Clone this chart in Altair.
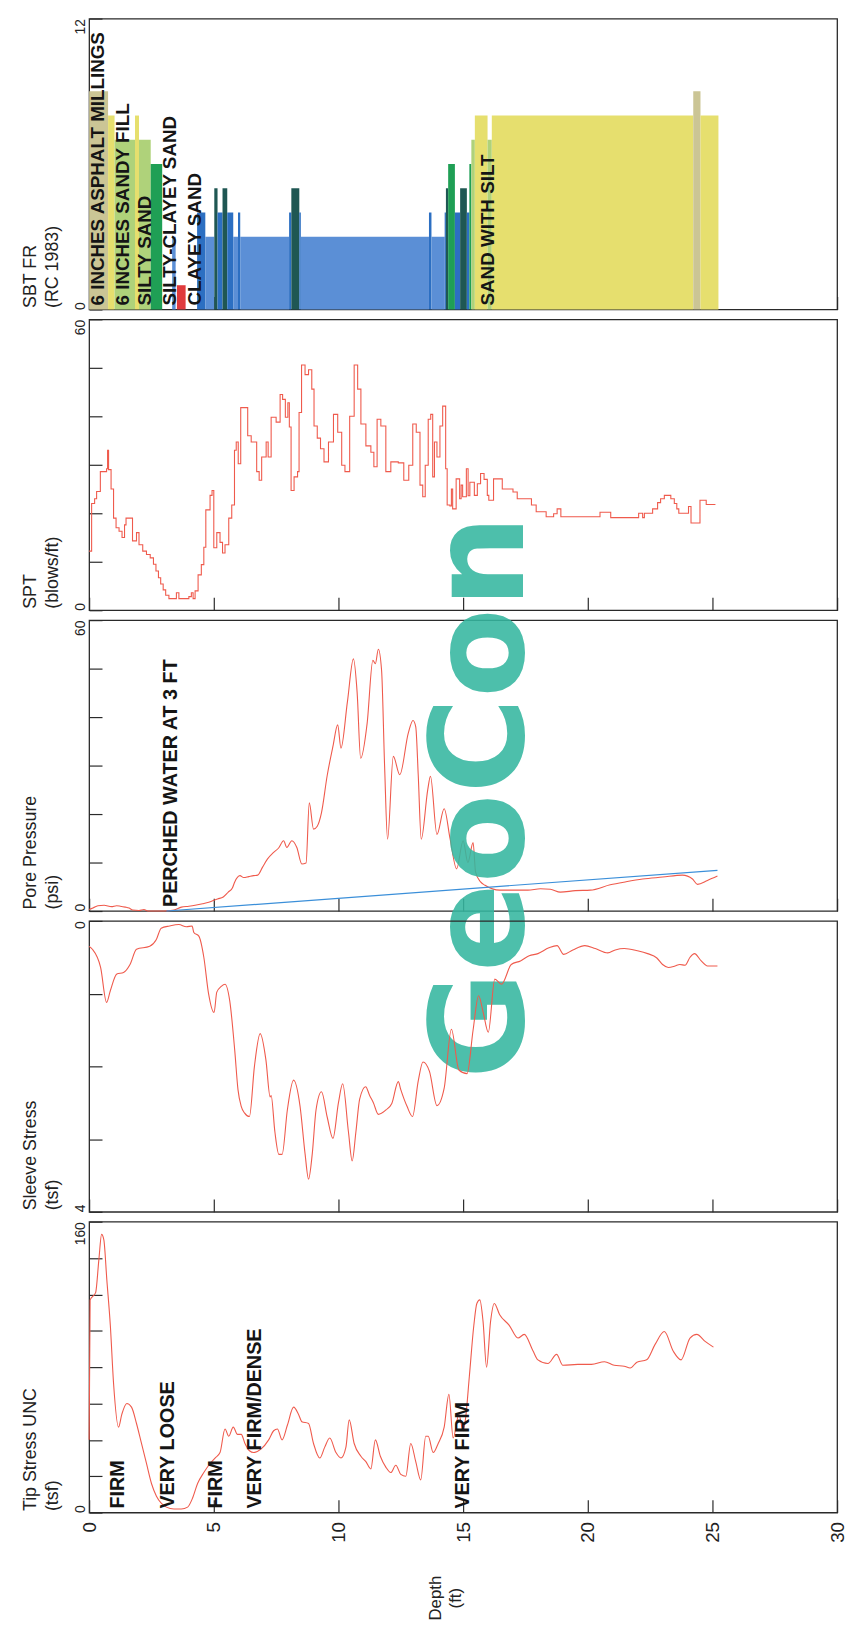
import altair as alt
import pandas as pd

FONT = "Liberation Sans"
W, H = 756, 294
LINE = "#ef5a4c"
BLUE_LINE = "#3b8fd9"
INK = "#151515"

depth_ticks = [0, 5, 10, 15, 20, 25, 30]

# ---- SBT FR (RC 1983) zones ----
sbt_start = [0.0, 0.76, 1.02, 1.84, 2.0, 2.47, 3.33, 3.52, 4.33, 4.66, 5.02, 5.15, 5.35, 5.54, 5.78, 5.97, 6.06,
             8.02, 8.11, 8.43, 8.49, 13.63, 13.73, 14.26, 14.31, 14.4, 14.67, 14.88, 15.15, 15.25, 15.33, 15.47,
             15.98, 16.15, 24.23, 24.52]
sbt_end = [0.76, 1.02, 1.84, 2.0, 2.47, 2.93, 3.47, 3.87, 4.66, 5.02, 5.15, 5.35, 5.54, 5.78, 5.97, 6.06, 8.02,
           8.11, 8.43, 8.49, 13.63, 13.73, 14.26, 14.31, 14.4, 14.67, 14.88, 15.15, 15.25, 15.33, 15.47, 15.98,
           16.15, 24.23, 24.52, 25.24]
sbt_zone = [9, 8, 7, 8, 7, 6, 3, 1, 4, 3, 5, 4, 5, 4, 3, 4, 3,
            4, 5, 4, 3, 4, 3, 4, 5, 6, 4, 5, 4, 6, 7, 8,
            7, 8, 9, 8]
zone_ids = [1, 3, 4, 5, 6, 7, 8, 9]
zone_colors = ["#e03a3c", "#5b8fd6", "#2c6fc2", "#1f5753", "#1f9f55", "#afd27a", "#e6df6e", "#cbc595"]
sbt_label_depth = [0.36, 1.35, 2.23, 3.25, 4.23, 16.0]
sbt_label_text = ["6 INCHES ASPHALT MILLINGS", "6 INCHES SANDY FILL", "SILTY SAND",
                  "SILTY-CLAYEY SAND", "CLAYEY SAND", "SAND WITH SILT"]

# ---- SPT (blows/ft) ----
spt = [(0.0, 12.2), (0.1, 22), (0.22, 23), (0.3, 24.5), (0.45, 28.6), (0.7, 29.2), (0.74, 33), (0.78, 29),
       (0.88, 25), (0.98, 19), (1.08, 17), (1.2, 16.3), (1.32, 15), (1.42, 17.6), (1.48, 19), (1.74, 14.3),
       (1.9, 16), (2.0, 13.5), (2.15, 12.2), (2.3, 11.5), (2.45, 10.8), (2.58, 9.5), (2.68, 8.1), (2.78, 6.7),
       (2.87, 5.4), (2.97, 4.2), (3.07, 3.1), (3.2, 2.4), (3.4, 2.4), (3.5, 3.6), (3.6, 2.4), (3.85, 2.4),
       (4.0, 2.8), (4.1, 3.6), (4.17, 2.4), (4.25, 4.0), (4.37, 7.3), (4.5, 9.4), (4.6, 13), (4.68, 20.7),
       (4.85, 23.7), (4.93, 24.7), (5.0, 12.9), (5.12, 16), (5.25, 14), (5.35, 11.8), (5.45, 13.5), (5.6, 19),
       (5.72, 21.7), (5.83, 33), (5.9, 34.7), (5.98, 30.2), (6.08, 41.8), (6.36, 36), (6.5, 34.7), (6.72, 28.6),
       (6.82, 26.8), (6.92, 31.6), (7.1, 34.7), (7.18, 31.6), (7.3, 39.8), (7.5, 38.8), (7.66, 44.5),
       (7.76, 43.5), (7.87, 39.8), (7.97, 42.8), (8.03, 37.8), (8.1, 24.7), (8.22, 27.5), (8.36, 28.6),
       (8.42, 40.8), (8.52, 50.6), (8.66, 48.6), (8.8, 49.6), (8.93, 45.6), (9.02, 38), (9.15, 35.5),
       (9.28, 33.3), (9.42, 30.6), (9.6, 34.7), (9.8, 40.4), (9.97, 36.7), (10.13, 29.9), (10.26, 28.6),
       (10.45, 40), (10.63, 50.6), (10.77, 45.6), (10.9, 38.4), (11.1, 33.9), (11.3, 32.6), (11.42, 29.6),
       (11.55, 39.4), (11.7, 38), (11.9, 28.6), (12.1, 30.6), (12.4, 30.4), (12.62, 26.8), (12.82, 29.9),
       (12.98, 38.4), (13.12, 36.7), (13.27, 25.8), (13.38, 23.4), (13.48, 29.9), (13.6, 39.4), (13.7, 40.4),
       (13.78, 27.5), (13.85, 34.7), (13.95, 31.6), (14.07, 38), (14.18, 42.1), (14.3, 29.2), (14.36, 21.7),
       (14.47, 21.5), (14.53, 25), (14.58, 20.9), (14.72, 27.1), (14.86, 23), (14.92, 25.8), (14.98, 23.4),
       (15.13, 29.2), (15.2, 23.6), (15.27, 26.4), (15.45, 23.7), (15.57, 26.1), (15.7, 28.2), (15.84, 27),
       (15.97, 23.7), (16.03, 22.7), (16.22, 27.1), (16.57, 25), (17.0, 24.4), (17.17, 23), (17.74, 21.7),
       (17.93, 20.3), (18.33, 19.3), (18.63, 19.9), (18.77, 20.9), (18.92, 19.3), (20.49, 20.2), (20.92, 19.1),
       (22.04, 20), (22.2, 19.1), (22.27, 20), (22.6, 20.9), (22.8, 22.2), (22.92, 23), (23.07, 23.7),
       (23.33, 23), (23.47, 22), (23.57, 20.9), (23.65, 20), (24.04, 21.4), (24.14, 18), (24.5, 22.7),
       (24.75, 21.8), (25.12, 21.8)]

# ---- Pore pressure (psi) ----
pore = [(0.0, 0.3), (0.15, 0.6), (0.35, 1.1), (0.6, 1.2), (0.9, 0.9), (1.1, 1.1), (1.25, 1.0), (1.45, 0.8),
        (1.6, 0.6), (1.75, 0.2), (2.0, 0.1), (2.2, 0.3), (2.35, 0.0), (2.6, 0.0), (3.0, 0.0), (3.4, 0.2),
        (3.7, 0.8), (4.0, 1.0), (4.25, 1.2), (4.55, 1.5), (4.8, 1.8), (5.15, 2.5), (5.38, 2.9), (5.58, 3.9),
        (5.75, 4.8), (5.84, 6.0), (6.05, 7.3), (6.2, 6.9), (6.4, 7.1), (6.6, 7.3), (6.76, 7.4), (6.95, 9.0),
        (7.15, 10.7), (7.4, 12.1), (7.6, 13.0), (7.8, 14.5), (7.93, 13.1), (8.13, 14.5), (8.33, 13.1),
        (8.53, 9.7), (8.7, 9.9), (8.83, 22.3), (9.0, 16.9), (9.15, 17.5), (9.32, 20.3), (9.55, 28.0),
        (9.78, 34.0), (9.97, 38.4), (10.1, 33.6), (10.36, 43.2), (10.6, 52.0), (10.75, 45.0), (10.89, 31.5),
        (11.15, 38.7), (11.38, 51.7), (11.48, 51.0), (11.6, 54.0), (11.73, 49.6), (11.85, 30.0), (11.97, 14.8),
        (12.2, 31.9), (12.46, 28.1), (12.8, 36.7), (12.99, 39.3), (13.1, 38.0), (13.2, 28.0), (13.32, 14.8),
        (13.58, 25.0), (13.69, 27.8), (13.95, 15.8), (14.24, 21.1), (14.48, 14.8), (14.74, 8.7), (15.0, 14.5),
        (15.19, 10.0), (15.4, 14.1), (15.5, 8.0), (15.7, 6.0), (15.88, 5.3), (16.47, 4.3), (17.0, 4.3),
        (17.6, 4.3), (18.1, 4.6), (18.5, 4.5), (18.9, 3.9), (19.5, 4.2), (20.1, 4.3), (20.9, 5.4), (21.5, 6.0),
        (22.2, 6.6), (23.0, 7.0), (23.8, 7.4), (24.2, 6.6), (24.4, 5.5), (24.8, 6.3), (25.2, 7.2)]
water_depth = [3.1, 25.2]
water_psi = [0.0, 8.4]
pore_note_depth = [3.3]
pore_note_text = ["PERCHED WATER AT 3 FT"]
wm_text = ["GeoCon"]
wm_depth = [17.4]
wm_psi = [23.5]

# ---- Sleeve stress (tsf) ----
sleeve = [(0.0, 0.35), (0.13, 0.39), (0.46, 0.64), (0.7, 1.12), (0.85, 0.96), (1.11, 0.73), (1.38, 0.71),
          (1.64, 0.6), (1.9, 0.39), (2.43, 0.35), (2.69, 0.26), (2.89, 0.1), (3.22, 0.07), (3.6, 0.05),
          (3.9, 0.08), (4.13, 0.07), (4.2, 0.16), (4.4, 0.21), (4.6, 0.5), (4.79, 1.0), (5.01, 1.26),
          (5.12, 0.98), (5.3, 0.9), (5.45, 0.87), (5.64, 1.1), (5.84, 1.78), (5.97, 2.32), (6.1, 2.55),
          (6.23, 2.64), (6.43, 2.69), (6.63, 2.0), (6.86, 1.55), (7.09, 1.91), (7.26, 2.42), (7.3, 2.4),
          (7.45, 2.9), (7.61, 3.21), (7.74, 3.21), (7.95, 2.6), (8.2, 2.19), (8.46, 2.55), (8.66, 3.2),
          (8.8, 3.55), (8.95, 3.2), (9.1, 2.6), (9.32, 2.35), (9.55, 2.7), (9.78, 2.99), (10.0, 2.5),
          (10.17, 2.24), (10.4, 2.9), (10.55, 3.3), (10.7, 2.9), (10.85, 2.45), (11.09, 2.28), (11.25, 2.4),
          (11.4, 2.5), (11.6, 2.66), (11.9, 2.6), (12.14, 2.51), (12.4, 2.21), (12.5, 2.32), (12.75, 2.55),
          (12.97, 2.69), (13.2, 2.2), (13.39, 1.94), (13.65, 2.07), (13.95, 2.54), (14.24, 2.3), (14.53, 1.49),
          (14.83, 2.05), (15.16, 2.1), (15.4, 1.5), (15.62, 1.03), (15.8, 1.25), (16.01, 1.53), (16.27, 0.8),
          (16.54, 0.87), (16.93, 0.6), (17.3, 0.55), (17.65, 0.48), (18.0, 0.45), (18.44, 0.37), (18.77, 0.34),
          (19.03, 0.46), (19.4, 0.4), (19.88, 0.34), (20.3, 0.38), (20.8, 0.44), (21.1, 0.4), (21.46, 0.38),
          (21.98, 0.41), (22.4, 0.45), (22.77, 0.51), (23.0, 0.6), (23.23, 0.64), (23.5, 0.62), (23.69, 0.6),
          (23.9, 0.61), (24.1, 0.5), (24.28, 0.45), (24.55, 0.55), (24.8, 0.62), (25.2, 0.62)]

# ---- Tip stress UNC (tsf) ----
tip = [(0.0, 40), (0.04, 117), (0.26, 121), (0.39, 139), (0.5, 153), (0.59, 150), (0.71, 128), (0.85, 103),
       (0.98, 71), (1.18, 47), (1.31, 54), (1.51, 60), (1.7, 58), (1.9, 49), (2.1, 38), (2.3, 27), (2.5, 16),
       (2.7, 9), (2.9, 5), (3.1, 3), (3.4, 2), (3.7, 2), (3.95, 3), (4.15, 8), (4.35, 16), (4.6, 22),
       (4.85, 27), (5.05, 30), (5.25, 33), (5.45, 46), (5.6, 42), (5.78, 47), (5.95, 43), (6.1, 43),
       (6.25, 38), (6.43, 34), (6.6, 33), (6.9, 35), (7.2, 40), (7.4, 45), (7.55, 46), (7.74, 40), (7.95, 48),
       (8.2, 58), (8.4, 54), (8.53, 50), (8.8, 49), (9.0, 38), (9.25, 30), (9.45, 36), (9.65, 41), (9.9, 33),
       (10.1, 30), (10.3, 36), (10.43, 51), (10.63, 38), (10.9, 31), (11.1, 28), (11.3, 24), (11.48, 40),
       (11.68, 31), (11.9, 25), (12.1, 22), (12.3, 26), (12.5, 21), (12.7, 20), (12.9, 38), (13.1, 28),
       (13.3, 18), (13.5, 42), (13.6, 42), (13.8, 33), (14.0, 38), (14.24, 47), (14.43, 65), (14.6, 41),
       (14.83, 54), (15.0, 45), (15.1, 52), (15.25, 75), (15.43, 103), (15.55, 115), (15.67, 117), (15.8, 105),
       (15.94, 80), (16.1, 105), (16.25, 115), (16.46, 109), (16.85, 103), (17.2, 96), (17.45, 98), (17.8, 89),
       (18.0, 84), (18.4, 82), (18.75, 87), (19.0, 81), (19.6, 81.5), (20.15, 81.5), (20.67, 83), (21.06, 81),
       (21.46, 80.5), (21.7, 79.5), (21.97, 82.7), (22.36, 84), (22.7, 92.5), (23.07, 99.6), (23.43, 88.7),
       (23.74, 84), (24.1, 96), (24.37, 98), (24.72, 94), (25.04, 91)]
tip_note_depth = [1.15, 3.15, 5.1, 6.65, 15.0]
tip_note_text = ["FIRM", "VERY LOOSE", "FIRM", "VERY FIRM/DENSE", "VERY FIRM"]

# ---------------------------------------------------------------------------
XS = alt.Scale(domain=[0, 30], nice=False, zero=False)


def xaxis(bottom):
    common = dict(values=depth_ticks, tickSize=13, offset=-13, domain=False, grid=False,
                  labelFlush=False, labelOverlap=False)
    if bottom:
        return alt.Axis(title=["Depth", "(ft)"], labels=True, labelAngle=270, labelAlign="right",
                        labelBaseline="middle", labelFontSize=19, labelPadding=9,
                        titleAngle=270, titleAlign="center", titleBaseline="middle", titleFontSize=17,
                        titleFontWeight="normal", titleLineHeight=20, titleX=350, titleY=99, **common)
    return alt.Axis(title=None, labels=False, **common)


def yaxis(title, ticks, bottom_val):
    lo, hi = ticks[0], ticks[-1]
    return alt.Axis(title=title, values=ticks,
                    labelExpr=f"(datum.value == {lo} || datum.value == {hi}) ? datum.label : ''",
                    labelAngle=270,
                    labelAlign={"condition": {"test": f"datum.value == {bottom_val}", "value": "left"},
                                "value": "right"},
                    labelBaseline="bottom", labelPadding=2, labelFontSize=14, labelFlush=False,
                    labelOverlap=False, tickSize=13, offset=-13, domain=False, grid=False,
                    titleAngle=270, titleAlign="left", titleBaseline="bottom", titleX=-63, titleY=H - 2,
                    titleFontSize=18, titleFontWeight="normal", titleLineHeight=22)


def enc(xfield, yfield, yscale, yax, bottom=False):
    return dict(x=alt.X(f"{xfield}:Q", scale=XS, axis=xaxis(bottom)),
                y=alt.Y(f"{yfield}:Q", scale=yscale, axis=yax))


def note_layer(df, yscale, yax, bottom=False, size=20):
    return alt.Chart(df).mark_text(angle=270, align="left", baseline="middle", dx=4, font=FONT,
                                   fontSize=size, fontWeight="bold", color=INK).encode(
        text="label:N", **enc("depth", "base", yscale, yax, bottom))


# SBT panel
sbt_y = alt.Scale(domain=[0, 12], nice=False, zero=True)
sbt_ax = yaxis(["SBT FR", "(RC 1983)"], [0, 12], 0)
sbt_df = pd.DataFrame({"start": sbt_start, "end": sbt_end, "zone": sbt_zone, "base": 0})
sbt_bars = alt.Chart(sbt_df).mark_rect().encode(
    x2="end:Q", y2="base:Q",
    color=alt.Color("zone:N", scale=alt.Scale(domain=zone_ids, range=zone_colors), legend=None),
    **enc("start", "zone", sbt_y, sbt_ax))
sbt_notes = note_layer(pd.DataFrame({"depth": sbt_label_depth, "label": sbt_label_text, "base": 0}),
                       sbt_y, sbt_ax, size=19)
sbt_panel = alt.layer(sbt_bars, sbt_notes).properties(width=W, height=H)

# SPT panel
spt_y = alt.Scale(domain=[0, 60], nice=False)
spt_ax = yaxis(["SPT", "(blows/ft)"], [0, 10, 20, 30, 40, 50, 60], 0)
spt_df = pd.DataFrame(spt, columns=["depth", "value"])
spt_panel = alt.Chart(spt_df).mark_line(color=LINE, strokeWidth=1.1, interpolate="step-after").encode(
    **enc("depth", "value", spt_y, spt_ax)).properties(width=W, height=H)

# Pore pressure panel
pore_y = alt.Scale(domain=[0, 60], nice=False)
pore_ax = yaxis(["Pore Pressure", "(psi)"], [0, 10, 20, 30, 40, 50, 60], 0)
pore_df = pd.DataFrame(pore, columns=["depth", "value"])
pore_line = alt.Chart(pore_df).mark_line(color=LINE, strokeWidth=1.1, interpolate="monotone").encode(
    **enc("depth", "value", pore_y, pore_ax))
water_df = pd.DataFrame({"depth": water_depth, "value": water_psi})
water_line = alt.Chart(water_df).mark_line(color=BLUE_LINE, strokeWidth=1.2).encode(
    **enc("depth", "value", pore_y, pore_ax))
pore_note = note_layer(pd.DataFrame({"depth": pore_note_depth, "label": pore_note_text, "base": 0}),
                       pore_y, pore_ax, size=20)
wm_df = pd.DataFrame({"depth": wm_depth, "value": wm_psi, "label": wm_text})
watermark = alt.Chart(wm_df).mark_text(angle=270, align="center", baseline="alphabetic",
                                       font="DejaVu Sans", fontWeight="bold", fontSize=132,
                                       color="#35b7a0", opacity=0.88).encode(
    text="label:N", **enc("depth", "value", pore_y, pore_ax))
pore_panel = alt.layer(pore_line, water_line, pore_note, watermark).properties(width=W, height=H)

# Sleeve stress panel
sl_y = alt.Scale(domain=[0, 4], nice=False, reverse=True)
sl_ax = yaxis(["Sleeve Stress", "(tsf)"], [0, 1, 2, 3, 4], 4)
sl_df = pd.DataFrame(sleeve, columns=["depth", "value"])
sleeve_panel = alt.Chart(sl_df).mark_line(color=LINE, strokeWidth=1.1, interpolate="monotone").encode(
    **enc("depth", "value", sl_y, sl_ax)).properties(width=W, height=H)

# Tip stress panel
tip_y = alt.Scale(domain=[0, 160], nice=False)
tip_ax = yaxis(["Tip Stress UNC", "(tsf)"], [0, 20, 40, 60, 80, 100, 120, 140, 160], 0)
tip_df = pd.DataFrame(tip, columns=["depth", "value"])
tip_line = alt.Chart(tip_df).mark_line(color=LINE, strokeWidth=1.1, interpolate="monotone").encode(
    **enc("depth", "value", tip_y, tip_ax, True))
tip_notes = note_layer(pd.DataFrame({"depth": tip_note_depth, "label": tip_note_text, "base": 0}),
                       tip_y, tip_ax, True)
tip_panel = alt.layer(tip_line, tip_notes).properties(width=W, height=H)

chart = alt.vconcat(sbt_panel, spt_panel, pore_panel, sleeve_panel, tip_panel,
                    spacing=10, bounds="flush").properties(
    padding={"left": 13, "top": 0, "right": 0, "bottom": 0},
    background="white",
).configure_view(
    stroke="#2a2a2a", strokeWidth=1.3
).configure_axis(
    tickColor="#2a2a2a", tickWidth=1.2, labelColor="#222222", titleColor="#222222",
    labelFont=FONT, titleFont=FONT
).configure_text(font=FONT)

chart.save("out.html", embed_options={"renderer": "svg", "actions": False})
